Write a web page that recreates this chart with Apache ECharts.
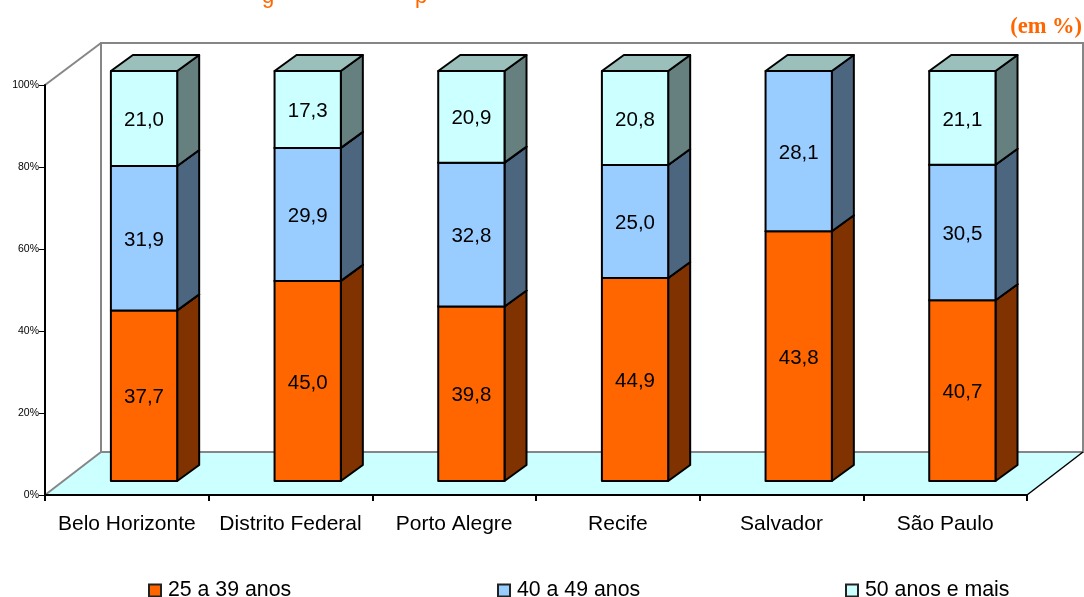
<!DOCTYPE html>
<html>
<head>
<meta charset="utf-8">
<title>Grupos de idade</title>
<script src="https://cdn.jsdelivr.net/npm/echarts@6/dist/echarts.min.js"></script>
<style>
  html, body { margin: 0; padding: 0; background: #fff; }
  #chart { width: 1084px; height: 597px; }
</style>
</head>
<body>
<div id="chart"></div>
<script>
var cities = ['Belo Horizonte', 'Distrito Federal', 'Porto Alegre', 'Recife', 'Salvador', 'São Paulo'];
var age25to39 = [37.7, 45.0, 39.8, 44.9, 43.8, 40.7];
var age40to49 = [31.9, 29.9, 32.8, 25.0, 28.1, 30.5];
var age50plus = [21.0, 17.3, 20.9, 20.8, null, 21.1];
var yTicks = [0, 20, 40, 60, 80, 100];

// pixel layout of the fake 3d box
var left = 45, right = 1027, top100 = 85, bottom0 = 495;
var depthX = 56, depthY = 43;       // wall offset
var barDX = 22, barDY = 16;         // bar depth
var shiftX = 17.2, shiftY = -14;    // bars stand inside the floor

function pct(i, list) {
  var total = age25to39[i] + age40to49[i] + (age50plus[i] || 0);
  return list[i] / total * 100;
}

// build [city, start, end, label] rows, 100% stacked
function rows(list, below) {
  var out = [];
  list.forEach(function (v, i) {
    if (v === null) return;
    var start = 0;
    below.forEach(function (b) { start += pct(i, b); });
    out.push([i, start, start + pct(i, list), v.toFixed(1).replace('.', ',')]);
  });
  return out;
}

function boxSeries(name, data, front, side) {
  return {
    name: name,
    type: 'custom',
    data: data,
    encode: { x: 0, y: [1, 2] },
    itemStyle: { color: front, borderColor: '#222', borderWidth: 1.5 },
    renderItem: function (params, api) {
      var p0 = api.coord([api.value(0), api.value(1)]);
      var p1 = api.coord([api.value(0), api.value(2)]);
      var w = api.size([1, 0])[0] * 0.405;
      var x0 = p0[0] + shiftX - w / 2, x1 = x0 + w;
      var y0 = p0[1] + shiftY, y1 = p1[1] + shiftY;
      var line = { stroke: '#000', lineWidth: 2, lineJoin: 'round' };
      return {
        type: 'group',
        children: [
          { type: 'polygon', shape: { points: [[x1, y0], [x1 + barDX, y0 - barDY], [x1 + barDX, y1 - barDY], [x1, y1]] }, style: Object.assign({ fill: side }, line) },
          { type: 'polygon', shape: { points: [[x0, y1], [x1, y1], [x1 + barDX, y1 - barDY], [x0 + barDX, y1 - barDY]] }, style: Object.assign({ fill: '#9bc0bc' }, line) },
          { type: 'rect', shape: { x: x0, y: y1, width: w, height: y0 - y1 }, style: Object.assign({ fill: front }, line) },
          { type: 'text', x: (x0 + x1) / 2, y: (y0 + y1) / 2 + 2, style: { text: api.value(3), align: 'center', verticalAlign: 'middle', font: '20.5px "Liberation Sans"', fill: '#000' } }
        ]
      };
    }
  };
}

function legendAt(name, x) {
  return {
    data: [name],
    left: x,
    top: 580,
    padding: 0,
    itemWidth: 12,
    itemHeight: 12,
    icon: 'rect',
    selectedMode: false,
    textStyle: { fontFamily: 'Liberation Sans', fontSize: 21.3, color: '#000', padding: [0, 0, 0, 2] }
  };
}

var names = ['25 a 39 anos', '40 a 49 anos', '50 anos e mais'];
var grey = { stroke: '#868686', lineWidth: 2 };

var chart = echarts.init(document.getElementById('chart'), null, { renderer: 'canvas' });
chart.setOption({
  animation: false,
  backgroundColor: '#fff',
  title: {
    text: '(em %)',
    right: 2,
    top: 16,
    padding: 0,
    textStyle: { fontFamily: 'Liberation Serif', fontWeight: 'bold', fontSize: 22.5, color: '#ff6600' }
  },
  legend: [legendAt(names[0], 148), legendAt(names[1], 497), legendAt(names[2], 845)],
  grid: { left: left, right: 1084 - right, top: top100, bottom: 597 - bottom0 },
  xAxis: {
    type: 'category',
    data: cities,
    axisLine: { lineStyle: { color: '#000', width: 2 } },
    axisTick: { show: true, alignWithLabel: false, length: 6, lineStyle: { color: '#000', width: 2 } },
    axisLabel: { margin: 19, interval: 0, fontFamily: 'Liberation Sans', fontSize: 21, color: '#000' }
  },
  yAxis: {
    type: 'value',
    min: yTicks[0],
    max: yTicks[yTicks.length - 1],
    interval: 20,
    splitLine: { show: false },
    axisLine: { show: true, lineStyle: { color: '#000', width: 2 } },
    axisTick: { show: true, length: 6, lineStyle: { color: '#000', width: 1 } },
    axisLabel: { margin: 6, fontFamily: 'Liberation Sans', fontSize: 10.5, color: '#000', formatter: '{value}%' }
  },
  graphic: [
    { type: 'polygon', z: -1, shape: { points: [[left, bottom0], [left + depthX, bottom0 - depthY], [right + depthX, bottom0 - depthY], [right, bottom0]] }, style: { fill: '#ccffff' } },
    { type: 'rect', z: -1, shape: { x: left + depthX, y: top100 - depthY + 1, width: right - left, height: bottom0 - top100 - 1 }, style: Object.assign({ fill: '#fff' }, grey) },
    { type: 'line', z: -1, shape: { x1: left, y1: top100, x2: left + depthX, y2: top100 - depthY + 1 }, style: grey },
    { type: 'line', z: -1, shape: { x1: left, y1: bottom0, x2: left + depthX, y2: bottom0 - depthY }, style: grey },
    { type: 'line', z: -1, shape: { x1: right, y1: bottom0, x2: right + depthX, y2: bottom0 - depthY }, style: { stroke: '#000', lineWidth: 1.5 } },
    // title of the source is cut by the top edge, only these descenders show
    { type: 'text', z: 5, x: 262, y: -14, style: { text: 'g', font: '22px "Liberation Sans"', fill: '#ff6600' } },
    { type: 'text', z: 5, x: 415, y: -14, style: { text: 'p', font: '22px "Liberation Sans"', fill: '#ff6600' } }
  ],
  series: [
    boxSeries(names[0], rows(age25to39, []), '#ff6600', '#803300'),
    boxSeries(names[1], rows(age40to49, [age25to39]), '#99ccff', '#4d6680'),
    boxSeries(names[2], rows(age50plus, [age25to39, age40to49]), '#ccffff', '#668080')
  ]
});
</script>
</body>
</html>
